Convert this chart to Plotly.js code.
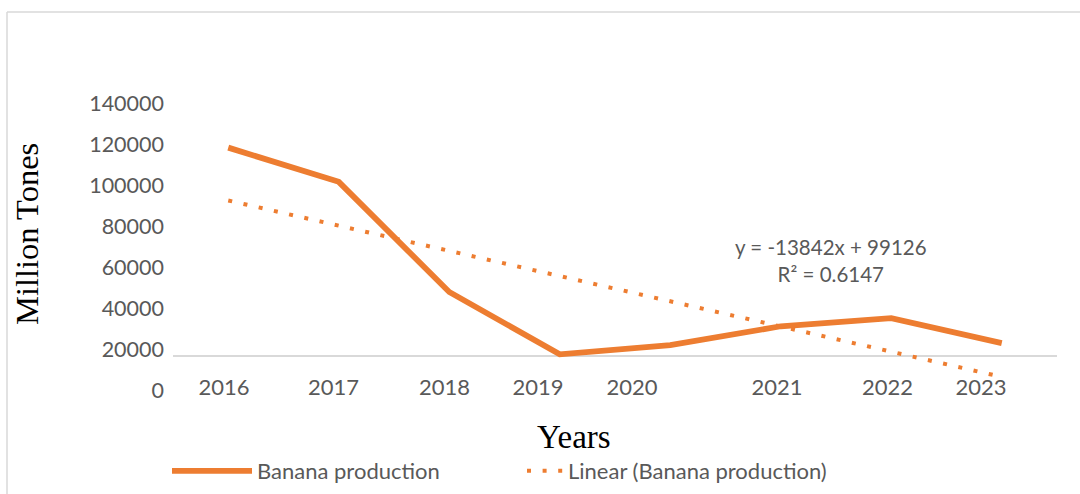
<!DOCTYPE html>
<html>
<head>
<meta charset="utf-8">
<script src="https://cdn.plot.ly/plotly-3.0.1.min.js"></script>
<style>html,body{margin:0;padding:0;background:#fff;}#chart{width:1080px;height:494px;}</style>
</head>
<body>
<div id="chart"></div>
<script>
// ---- data ----
const years = [2016, 2017, 2018, 2019, 2020, 2021, 2022, 2023];
const bananaProduction = [114300, 95500, 35000, 800, 5800, 16200, 20650, 6900];
const trendSlope = -13842;      // from the chart's trendline equation
const trendIntercept = 99126;
const trendR2 = 0.6147;
const xTickLabels = ['2016', '2017', '2018', '2019', '2020', '2021', '2022', '2023'];
const yTickLabels = [0, 20000, 40000, 60000, 80000, 100000, 120000, 140000];

// ---- styling / placement (not data) ----
const xLabelShift = [-0.038, -0.048, -0.043, -0.197, -0.346, -0.034, -0.034, -0.188];
const yLabelOffset = -18913, yLabelScale = 1.1239;
const W = 1080, H = 494, mL = 173, mR = 23, mT = 99, mB = 100;
const pw = W - mL - mR, ph = H - mT - mB;
const px = x => (x - mL) / pw;          // pixel -> paper x
const py = y => (H - mB - y) / ph;      // pixel -> paper y

const orange = '#ED7D31';
const grey = '#595959';
const sans = 'Lato, "Liberation Sans", sans-serif';
const serif = '"Liberation Serif", "Times New Roman", serif';

const trendX = [years[0], years[years.length - 1]];
const trendY = [1, years.length].map(i => trendSlope * i + trendIntercept);

const traces = [
  {
    x: years, y: bananaProduction, type: 'scatter', mode: 'lines',
    name: 'Banana production', legend: 'legend',
    line: {color: orange, width: 5.8}
  },
  {
    x: trendX, y: trendY, type: 'scatter', mode: 'lines',
    name: 'Linear (Banana production)', legend: 'legend2',
    line: {color: orange, width: 4, dash: '4px,11.6px'}
  }
];

const legendFont = {family: sans, size: 22, color: grey};
const layout = {
  width: W, height: H,
  margin: {l: mL, r: mR, t: mT, b: mB, autoexpand: false},
  paper_bgcolor: '#ffffff', plot_bgcolor: '#ffffff',
  showlegend: true,
  legend: {
    orientation: 'h', x: px(167), xanchor: 'left', y: py(471), yanchor: 'middle',
    font: legendFont, itemwidth: 80, bgcolor: 'rgba(0,0,0,0)'
  },
  legend2: {
    orientation: 'h', x: px(522), xanchor: 'left', y: py(471), yanchor: 'middle',
    font: legendFont, itemwidth: 36, bgcolor: 'rgba(0,0,0,0)'
  },
  xaxis: {
    range: [2015.5, 2023.5], showgrid: false, zeroline: false, showline: false,
    ticks: '', anchor: 'free', position: py(371.7),
    tickmode: 'array',
    tickvals: years.map((y, i) => y + xLabelShift[i]),
    ticktext: xTickLabels,
    tickfont: {family: sans, size: 22, color: grey}
  },
  yaxis: {
    range: [-21000, 141000], showgrid: false, showline: false, ticks: '',
    zeroline: true, zerolinecolor: '#d9d9d9', zerolinewidth: 1.5,
    tickmode: 'array', ticklabelstandoff: 8,
    tickvals: yTickLabels.map(v => yLabelOffset + yLabelScale * v),
    ticktext: yTickLabels.map(v => String(v)),
    tickfont: {family: sans, size: 21.5, color: grey}
  },
  annotations: [
    {xref: 'paper', yref: 'paper', x: px(27), y: py(234), xanchor: 'center', yanchor: 'middle',
     text: 'Million Tones', textangle: -90, showarrow: false,
     font: {family: serif, size: 32.5, color: '#000000'}},
    {xref: 'paper', yref: 'paper', x: px(573.5), y: py(437), xanchor: 'center', yanchor: 'middle',
     text: 'Years', showarrow: false,
     font: {family: serif, size: 33, color: '#000000'}},
    {xref: 'paper', yref: 'paper', x: px(831), y: py(260), xanchor: 'center', yanchor: 'middle',
     text: 'y = ' + trendSlope + 'x + ' + trendIntercept + '<br>R² = ' + trendR2,
     showarrow: false, align: 'center',
     font: {family: sans, size: 20.5, color: grey}}
  ],
  shapes: [
    {type: 'line', xref: 'paper', yref: 'paper', x0: px(7), x1: px(7), y0: py(12), y1: py(500),
     line: {color: '#d9d9d9', width: 1.5}},
    {type: 'line', xref: 'paper', yref: 'paper', x0: px(7), x1: px(1085), y0: py(12), y1: py(12),
     line: {color: '#d9d9d9', width: 1.5}}
  ]
};

Plotly.newPlot('chart', traces, layout, {staticPlot: true, displayModeBar: false});
</script>
</body>
</html>
